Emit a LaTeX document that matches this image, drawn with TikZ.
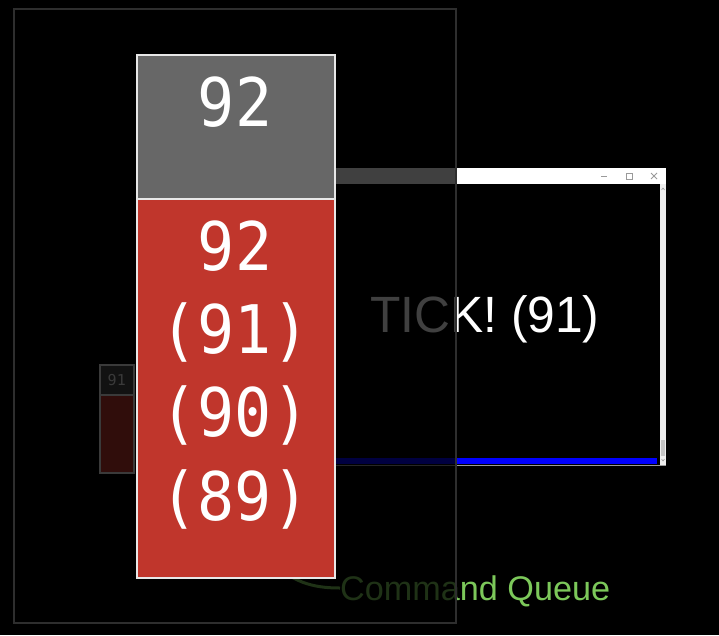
\documentclass[tikz,border=0pt]{standalone}
\usepackage{fontspec}
\setmainfont{Liberation Sans}
\newfontfamily\monof{DejaVu Sans Mono}
\definecolor{stackgray}{HTML}{676767}
\definecolor{stackred}{HTML}{C0362C}
\definecolor{edgewhite}{HTML}{E8E8E8}
\definecolor{queuegreen}{HTML}{7CC85A}
\definecolor{overlayedge}{HTML}{2E2E2E}
\definecolor{scrollgray}{HTML}{EEEEEE}
\definecolor{thumbgray}{HTML}{C4C4C4}
\definecolor{icongray}{HTML}{9A9A9A}
\tikzset{
  cell/.style={draw=edgewhite, line width=2pt, inner sep=0pt, anchor=north west},
  digit/.style={font=\monof\fontsize{67}{67}\selectfont, text=white, inner sep=0pt, anchor=base},
  smallcell/.style={draw=edgewhite, line width=1.5pt, inner sep=0pt, anchor=north west},
}
\begin{document}
\begin{tikzpicture}[x=1pt,y=-1pt]
\useasboundingbox (0,0) rectangle (719,635);
\fill[black] (0,0) rectangle (719,635);

% ---- window ----
\node[fill=black, inner sep=0pt, minimum width=466pt, minimum height=297pt, anchor=north west] (win) at (200,168) {};
\fill[white] (200,168) rectangle (666,184);
\fill[scrollgray] (660,184) rectangle (666,465);
\fill[thumbgray] (661,440) rectangle (665,456);
\draw[icongray, line width=0.6pt] (661.5,190) -- (663,188) -- (664.5,190);
\draw[icongray, line width=0.6pt] (661.5,459) -- (663,461) -- (664.5,459);
\draw[icongray, line width=0.8pt] (200,465) -- (666,465);
\fill[blue] (200,458) rectangle (657,464);
% title bar icons
\draw[icongray, line width=0.8pt] (601,176) -- (607,176);
\draw[icongray, line width=0.8pt] (626,173) rectangle (632,179);
\draw[icongray, line width=0.8pt] (651,173) -- (657,179) (651,179) -- (657,173);

\node[font=\fontsize{51}{51}\selectfont, text=white, inner sep=0pt, anchor=base west] (tick) at (370,332) {\scalebox{0.975}[1]{TICK! (91)}};

% ---- small stack ----
\node[smallcell, fill=stackgray!120, minimum width=34pt, minimum height=30pt] (stop) at (99,364) {};
\node[smallcell, fill=stackred, minimum width=34pt, minimum height=78pt] (sbot) at (99,394) {};
\node[font=\monof\fontsize{15}{15}\selectfont, text=edgewhite, inner sep=0pt] (slabel) at (stop.center) {91};

% ---- command queue label ----
\node[font=\fontsize{34.2}{34.2}\selectfont, text=queuegreen, inner sep=0pt, anchor=base west] (cq) at (340,600) {Command Queue};
\coordinate (curvestart) at (270,560);
\draw[queuegreen, line width=3pt] (curvestart) .. controls (292,582) and (312,588) .. (cq.west |- 0,588);

% ---- dimming overlay ----
\draw[draw=overlayedge, line width=1.2pt, fill=black, fill opacity=0.75] (14,9) rectangle (456,623);

% ---- main stack ----
\node[cell, fill=stackgray, minimum width=198pt, minimum height=144pt] (top) at (136,54) {};
\node[cell, fill=stackred, minimum width=198pt, minimum height=379pt] (bot) at (136,198) {};
\node[digit] (t92) at (235,126) {\scalebox{0.92}[1]{92}};
\node[digit] (r92) at (235,270) {\scalebox{0.92}[1]{92}};
\node[digit] (r91) at (235,353) {\scalebox{0.92}[1]{(91)}};
\node[digit] (r90) at (235,436) {\scalebox{0.92}[1]{(90)}};
\node[digit] (r89) at (235,520) {\scalebox{0.92}[1]{(89)}};
\end{tikzpicture}
\end{document}
